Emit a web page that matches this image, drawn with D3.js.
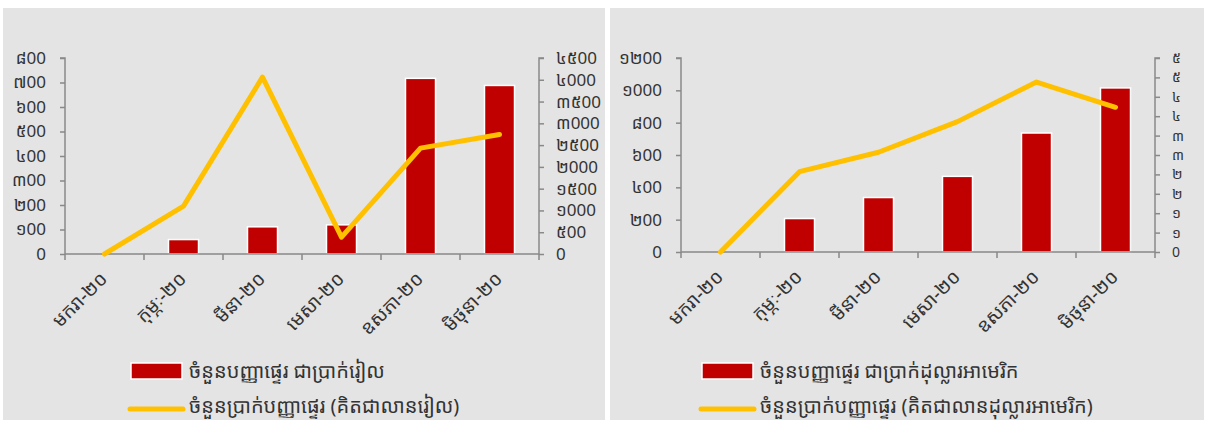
<!DOCTYPE html>
<html>
<head>
<meta charset="utf-8">
<script src="https://cdn.jsdelivr.net/npm/d3@7"></script>
<style>
  html, body { margin: 0; padding: 0; background: #ffffff; }
  svg { display: block; }
  text { font-family: "Noto Sans Khmer", "Khmer OS", "Khmer OS System", "DejaVu Sans", sans-serif; }
</style>
</head>
<body>
<svg id="chart" width="1207" height="426"></svg>
<script>
// ---------- data ----------
const months = ["មករា-២០", "កុម្ភៈ-២០", "មីនា-២០", "មេសា-២០", "ឧសភា-២០", "មិថុនា-២០"];

// Left chart: Riel
const rielCount  = [0, 59, 111, 119, 717, 688];          // bars, left axis
const rielAmount = [0, 1100, 4060, 386, 2430, 2745];     // line, right axis (million riel)
const rielLeftTicks  = [0, 100, 200, 300, 400, 500, 600, 700, 800];
const rielLeftLabels = ["0", "១00", "២00", "៣00", "៤00", "៥00", "៦00", "៧00", "៨00"];
const rielRightTicks  = [0, 500, 1000, 1500, 2000, 2500, 3000, 3500, 4000, 4500];
const rielRightLabels = ["0", "៥00", "១000", "១៥00", "២000", "២៥00", "៣000", "៣៥00", "៤000", "៤៥00"];
const rielLegend = ["ចំនួនបញ្ញាផ្ទេរ ជាប្រាក់រៀល", "ចំនួនប្រាក់បញ្ញាផ្ទេរ (គិតជាលានរៀល)"];

// Right chart: USD
const usdCount  = [0, 207, 337, 468, 736, 1015];
const usdAmount = [0, 2.07, 2.57, 3.36, 4.38, 3.73];
const usdLeftTicks  = [0, 200, 400, 600, 800, 1000, 1200];
const usdLeftLabels = ["0", "២00", "៤00", "៦00", "៨00", "១000", "១២00"];
const usdRightTicks  = [0, 0.5, 1, 1.5, 2, 2.5, 3, 3.5, 4, 4.5, 5];
const usdRightLabels = ["0", "១", "១", "២", "២", "៣", "៣", "៤", "៤", "៥", "៥"];
const usdLegend = ["ចំនួនបញ្ញាផ្ទេរ ជាប្រាក់ដុល្លារអាមេរិក", "ចំនួនប្រាក់បញ្ញាផ្ទេរ (គិតជាលានដុល្លារអាមេរិក)"];

// ---------- drawing ----------
const svg = d3.select("#chart");
const BAR = "#c00000", LINE = "#ffc000", AXIS = "#898989", TXT = "#333333", BG = "#e4e4e4";

function drawChart(cfg) {
  const g = svg.append("g");
  g.append("rect").attr("x", cfg.px).attr("y", 8).attr("width", cfg.pw).attr("height", 412).attr("fill", BG);

  const x = d3.scaleBand().domain(months).range([cfg.x0, cfg.x1]).paddingInner(0).paddingOuter(0);
  const yL = d3.scaleLinear().domain([0, d3.max(cfg.lTicks)]).range([cfg.yb, cfg.yt]);
  const yR = d3.scaleLinear().domain([0, d3.max(cfg.rTicks)]).range([cfg.yb, cfg.yt]);

  // bars
  const bw = x.bandwidth() * 0.38;
  g.selectAll("rect.bar").data(cfg.bars).join("rect")
    .attr("class", "bar")
    .attr("x", (d, i) => x(months[i]) + x.bandwidth() / 2 - bw / 2)
    .attr("y", d => yL(d))
    .attr("width", bw)
    .attr("height", d => yL(0) - yL(d))
    .attr("fill", BAR)
    .attr("stroke", d => d > 0 ? "#ffffff" : "none")
    .attr("stroke-width", 1.5);

  // left axis
  const axL = d3.axisLeft(yL).tickValues(cfg.lTicks).tickFormat((d, i) => cfg.lLabels[i]).tickSize(5).tickPadding(14);
  const gL = g.append("g").attr("transform", `translate(${cfg.x0},0)`).call(axL);
  // right axis
  const axR = d3.axisRight(yR).tickValues(cfg.rTicks).tickFormat((d, i) => cfg.rLabels[i]).tickSize(5).tickPadding(12);
  const gR = g.append("g").attr("transform", `translate(${cfg.x1},0)`).call(axR);
  // bottom axis
  const axB = d3.axisBottom(x).tickSize(0).tickPadding(0).tickFormat("");
  const gB = g.append("g").attr("transform", `translate(0,${cfg.yb})`).call(axB);
  const bounds = months.map(m => x(m)).concat([cfg.x1]);
  gB.selectAll("line.bt").data(bounds).join("line").attr("class", "bt")
    .attr("x1", d => d).attr("x2", d => d).attr("y1", 0).attr("y2", 6)
    .attr("stroke", AXIS).attr("stroke-width", 1.5);

  [gL, gR, gB].forEach(a => {
    a.select(".domain").attr("stroke", AXIS).attr("stroke-width", 1.5);
    a.selectAll(".tick line").attr("stroke", AXIS).attr("stroke-width", 1.5);
    a.selectAll(".tick text").attr("fill", TXT).style("font-size", "17px");
  });
  gR.selectAll(".tick text").style("font-size", cfg.rFont + "px");
  gL.select(".domain").attr("d", `M-5,${cfg.yt}H0V${cfg.yb}`);
  gR.select(".domain").attr("d", `M5,${cfg.yt}H0V${cfg.yb}`);
  gB.select(".domain").attr("d", `M${cfg.x0},0H${cfg.x1}`);

  // rotated month labels
  g.selectAll("text.month").data(months).join("text")
    .attr("class", "month")
    .attr("transform", d => `translate(${x(d) + x.bandwidth() / 2 + 4},${cfg.yb + 26}) rotate(-45)`)
    .attr("text-anchor", "end")
    .attr("fill", TXT)
    .style("font-size", "19px")
    .text(d => d);

  // line
  const line = d3.line().x((d, i) => x(months[i]) + x.bandwidth() / 2).y(d => yR(d));
  g.append("path").datum(cfg.line).attr("d", line)
    .attr("fill", "none").attr("stroke", LINE).attr("stroke-width", 5)
    .attr("stroke-linecap", "round").attr("stroke-linejoin", "round");

  // legend
  g.append("rect").attr("x", cfg.lgx).attr("y", 363).attr("width", 51).attr("height", 16)
    .attr("fill", BAR).attr("stroke", "#ffffff").attr("stroke-width", 1.5);
  g.append("line").attr("x1", cfg.lgx - 1).attr("x2", cfg.lgx + 52).attr("y1", 409).attr("y2", 409)
    .attr("stroke", LINE).attr("stroke-width", 5).attr("stroke-linecap", "round");
  g.selectAll("text.lg").data(cfg.legend).join("text").attr("class", "lg")
    .attr("x", cfg.lgx + 58).attr("y", (d, i) => i === 0 ? 378 : 413)
    .attr("fill", TXT).style("font-size", "20px").text(d => d);
}

drawChart({
  px: 3, pw: 602, x0: 65, x1: 539, yt: 58, yb: 254, rFont: 17,
  lTicks: rielLeftTicks, lLabels: rielLeftLabels, rTicks: rielRightTicks, rLabels: rielRightLabels,
  bars: rielCount, line: rielAmount, legend: rielLegend, lgx: 131
});
drawChart({
  px: 610, pw: 594, x0: 681, x1: 1155, yt: 58, yb: 252, rFont: 14,
  lTicks: usdLeftTicks, lLabels: usdLeftLabels, rTicks: usdRightTicks, rLabels: usdRightLabels,
  bars: usdCount, line: usdAmount, legend: usdLegend, lgx: 702
});
</script>
</body>
</html>
